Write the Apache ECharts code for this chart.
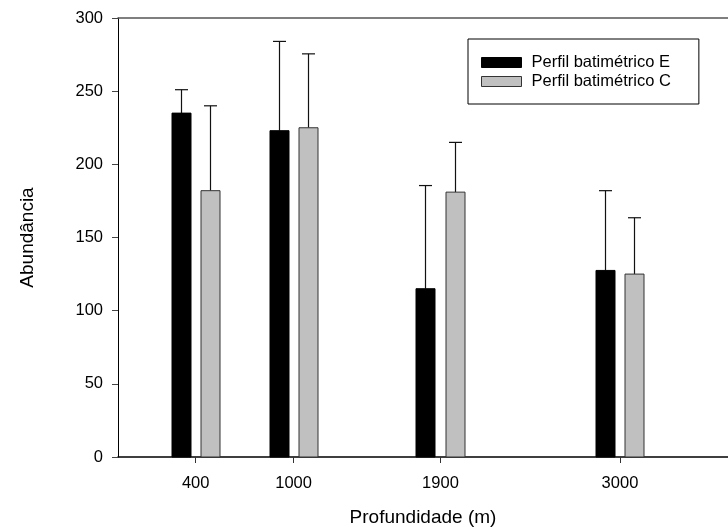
<!DOCTYPE html>
<html>
<head>
<meta charset="utf-8">
<script src="https://cdn.jsdelivr.net/npm/echarts@6/dist/echarts.min.js"></script>
<style>
  html, body { margin: 0; padding: 0; background: #fff; }
  #chart { width: 728px; height: 527px; }
</style>
</head>
<body>
<div id="chart"></div>
<script>
// dados
var depths = [400, 1000, 1900, 3000];
var perfilE = [235, 223, 115, 127.5];
var perfilEErr = [16, 61, 70.5, 54.5];
var perfilC = [182, 225, 181, 125];
var perfilCErr = [58, 50.5, 34, 38.5];
var yTicks = [0, 50, 100, 150, 200, 250, 300];

var font = 'Liberation Sans, Arial, sans-serif';

function rows(vals, errs) {
    var out = [];
    for (var i = 0; i < depths.length; i++) {
        out.push([depths[i], vals[i], errs[i]]);
    }
    return out;
}

// barra + barra de erro (só para cima)
function makeRender(offset, fill, stroke) {
    return function (params, api) {
        var x = api.value(0), v = api.value(1), e = api.value(2);
        var top = api.coord([x, v]);
        var base = api.coord([x, 0]);
        var errTop = api.coord([x, v + e]);
        var cx = Math.round(top[0] + offset) + 0.5;
        var w = 19;
        return {
            type: 'group',
            children: [
                {
                    type: 'line',
                    shape: { x1: cx, y1: top[1], x2: cx, y2: errTop[1] },
                    style: { stroke: '#111', lineWidth: 1.2 }
                },
                {
                    type: 'line',
                    shape: { x1: cx - 6.5, y1: errTop[1], x2: cx + 6.5, y2: errTop[1] },
                    style: { stroke: '#111', lineWidth: 1.2 }
                },
                {
                    type: 'rect',
                    shape: { x: cx - w / 2, y: top[1], width: w, height: base[1] - top[1] },
                    style: { fill: fill, stroke: stroke, lineWidth: 1 }
                }
            ]
        };
    };
}

var myChart = echarts.init(document.getElementById('chart'));
var option = {
    animation: false,
    textStyle: { fontFamily: font },
    grid: { left: 118, right: 0, top: 18, bottom: 70, containLabel: false, outerBoundsMode: 'none' },
    legend: {
        orient: 'vertical',
        left: 468,
        top: 39,
        padding: [14, 28, 13, 13],
        itemWidth: 40,
        itemHeight: 10,
        itemGap: 0,
        borderColor: '#000',
        borderWidth: 1,
        icon: 'rect',
        textStyle: { fontSize: 16.5, color: '#000', fontFamily: font, lineHeight: 19, padding: [0, 0, 0, 5] },
        data: [
            { name: 'Perfil batimétrico E', itemStyle: { color: '#000', borderColor: '#000', borderWidth: 1 } },
            { name: 'Perfil batimétrico C', itemStyle: { color: '#c0c0c0', borderColor: '#333', borderWidth: 1 } }
        ]
    },
    xAxis: [
        {
            type: 'value',
            min: -76,
            max: 3662,
            name: 'Profundidade (m)',
            nameLocation: 'middle',
            nameGap: 51,
            nameTextStyle: { fontSize: 19, color: '#000', fontFamily: font },
            splitLine: { show: false },
            axisLine: { show: true, onZero: false, lineStyle: { color: '#000', width: 1.5 } },
            axisTick: { show: true, customValues: depths, length: 6, lineStyle: { color: '#333' } },
            axisLabel: {
                customValues: depths, fontSize: 16.5, color: '#000', margin: 18,
                formatter: function (v) { return String(v); }
            }
        },
        {
            type: 'value',
            position: 'top',
            min: -76,
            max: 3662,
            splitLine: { show: false },
            axisLine: { show: true, onZero: false, lineStyle: { color: '#555', width: 1.5 } },
            axisTick: { show: false },
            axisLabel: { show: false }
        }
    ],
    yAxis: {
        type: 'value',
        min: 0,
        max: 300,
        interval: 50,
        name: 'Abundância',
        nameLocation: 'middle',
        nameGap: 81,
        nameTextStyle: { fontSize: 19, color: '#000', fontFamily: font },
        splitLine: { show: false },
        axisLine: { show: true, onZero: false, lineStyle: { color: '#000', width: 1 } },
        axisTick: { show: true, length: 6, lineStyle: { color: '#444' } },
        axisLabel: {
            fontSize: 16.5, color: '#000', margin: 15,
            formatter: function (v) { return yTicks.indexOf(v) >= 0 ? String(v) : ''; }
        }
    },
    series: [
        {
            name: 'Perfil batimétrico E',
            type: 'custom',
            xAxisIndex: 0,
            renderItem: makeRender(-15, '#000', '#000'),
            encode: { x: 0, y: [1, 2] },
            data: rows(perfilE, perfilEErr),
            itemStyle: { color: '#000' }
        },
        {
            name: 'Perfil batimétrico C',
            type: 'custom',
            xAxisIndex: 0,
            renderItem: makeRender(14.5, '#c0c0c0', '#333'),
            encode: { x: 0, y: [1, 2] },
            data: rows(perfilC, perfilCErr),
            itemStyle: { color: '#c0c0c0' }
        }
    ]
};
myChart.setOption(option);
</script>
</body>
</html>
